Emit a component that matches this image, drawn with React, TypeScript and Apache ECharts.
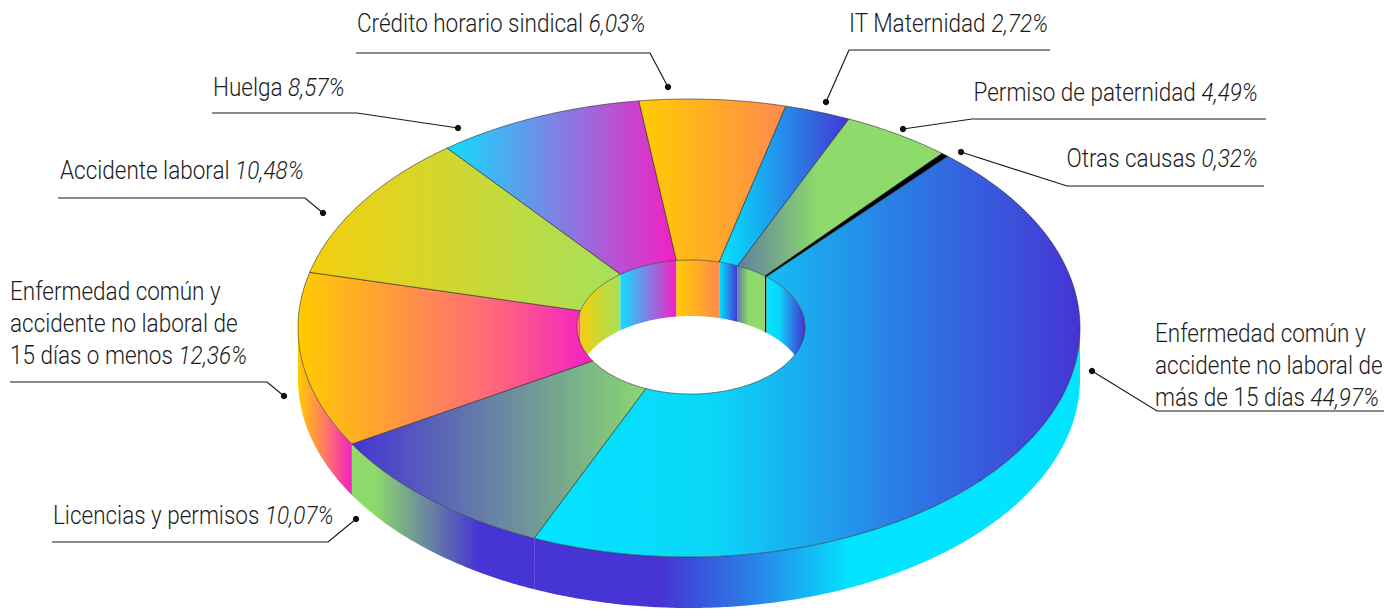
import React, { useEffect, useRef } from 'react';
import * as echarts from 'echarts';

// ---------- data (clockwise, starting with "Otras causas") ----------
const categories: string[] = [
  'Otras causas',
  'Enfermedad común y\naccidente no laboral de\nmás de 15 días',
  'Licencias y permisos',
  'Enfermedad común y\naccidente no laboral de\n15 días o menos',
  'Accidente laboral',
  'Huelga',
  'Crédito horario sindical',
  'IT Maternidad',
  'Permiso de paternidad',
];
const values: number[] = [0.32, 44.97, 10.07, 12.36, 10.48, 8.57, 6.03, 2.72, 4.49];

// ---------- styles ----------
const CYAN = '#02e4ff';
const INDIGO = '#4634d4';
const GREEN = '#8edb6c';
const YELLOW = '#ffcc00';
const MAGENTA = '#f41fc4';
const topStops: [number, string][][] = [
  [[0, '#000000'], [1, '#000000']],
  [[0, CYAN], [0.33, '#0bd6f8'], [0.66, '#2a7fe6'], [1, INDIGO]],
  [[0, INDIGO], [1, '#8ad870']],
  [[0, YELLOW], [0.4, '#ff8e4c'], [0.65, '#ff6a78'], [1, MAGENTA]],
  [[0, '#f3cf0c'], [1, '#a6e05c']],
  [[0, '#12dcff'], [1, MAGENTA]],
  [[0, YELLOW], [1, '#ff8a4e']],
  [[0, CYAN], [1, INDIGO]],
  [[0, '#5f7fa2'], [0.4, GREEN], [1, GREEN]],
];
const outerWallStops: [number, string][][] = [
  [[0, '#000000'], [1, '#000000']],
  [[0, INDIGO], [0.23, INDIGO], [0.4, '#2a80e6'], [0.58, CYAN], [1, CYAN]],
  [[0, GREEN], [0.12, GREEN], [0.7, INDIGO], [1, INDIGO]],
  [[0, YELLOW], [0.5, '#ff7a66'], [1, MAGENTA]],
  [[0, '#f3cf0c'], [1, '#a6e05c']],
  [[0, '#12dcff'], [1, MAGENTA]],
  [[0, YELLOW], [1, '#ff8a4e']],
  [[0, CYAN], [1, INDIGO]],
  [[0, '#5f7fa2'], [0.4, GREEN], [1, GREEN]],
];

// label layout: dot on the chart, elbow, end of underline, text anchor
type LL = { dot: number[]; elbow: number[]; end: number[]; x: number; base: number; align: 'left' | 'right' };
const labelLayout: LL[] = [
  { dot: [961, 152], elbow: [1067, 186], end: [1264, 186], x: 1258, base: 168, align: 'right' },
  { dot: [1092, 371], elbow: [1157, 411], end: [1384, 411], x: 1155, base: 407, align: 'left' },
  { dot: [356, 519], elbow: [328, 542], end: [52, 542], x: 53, base: 525, align: 'left' },
  { dot: [284, 396], elbow: [267, 382], end: [10, 382], x: 10, base: 365, align: 'left' },
  { dot: [323, 213], elbow: [305, 198], end: [58, 198], x: 60, base: 180, align: 'left' },
  { dot: [458, 128], elbow: [357, 113], end: [212, 113], x: 213, base: 97, align: 'left' },
  { dot: [668, 87], elbow: [650, 53], end: [356, 53], x: 357, base: 33, align: 'left' },
  { dot: [826, 102], elbow: [849, 50], end: [1050, 50], x: 849, base: 33, align: 'left' },
  { dot: [903, 129], elbow: [972, 119], end: [1266, 119], x: 1258, base: 102, align: 'right' },
];

const START_ANGLE = 40.3; // degrees, clockwise from 12 o'clock
const G = { cx: 689, cy: 328, rx: 391, ry: 229, depth: 51, icx: 691, icy: 327, irx: 114, iry: 67, idepth: 56 };
const FONT = 'Roboto, "Noto Sans", sans-serif';
const FS = 25;
const SX = 0.9;

const fmt = (v: number) => v.toFixed(2).replace('.', ',') + '%';

function grad(stops: [number, string][]) {
  return {
    type: 'linear', x: 0, y: 0, x2: 1, y2: 0,
    colorStops: stops.map(([o, c]) => ({ offset: o, color: c })),
  };
}

function arc(out: number[][], s: number, e: number, cx: number, cy: number, rx: number, ry: number, dy: number) {
  const n = Math.max(2, Math.ceil(Math.abs(e - s) / 0.5));
  for (let k = 0; k <= n; k++) {
    const a = ((s + ((e - s) * k) / n) * Math.PI) / 180;
    out.push([cx + rx * Math.sin(a), cy - ry * Math.cos(a) + dy]);
  }
  return out;
}

export default function App() {
  const ref = useRef<HTMLDivElement>(null);
  useEffect(() => {
    document.body.style.margin = '0';
    if (!ref.current) return;
    const chart = echarts.init(ref.current, undefined, { renderer: 'svg' });
    const total = values.reduce((a, b) => a + b, 0);
    const angles: number[][] = [];
    let acc = START_ANGLE;
    values.forEach((v) => {
      const w = (v / total) * 360;
      angles.push([acc, acc + w]);
      acc += w;
    });

    const renderItem = (params: any) => {
      const i = params.dataIndex;
      const [a0, a1] = angles[i];
      const children: any[] = [];
      // inner (back) walls
      [[-90, 90], [270, 450]].forEach(([lo, hi]) => {
        const s = Math.max(a0, lo), e = Math.min(a1, hi);
        if (e > s) {
          const pts: number[][] = [];
          arc(pts, s, e, G.icx, G.icy, G.irx, G.iry, 0);
          arc(pts, e, s, G.icx, G.icy, G.irx, G.iry, G.idepth);
          children.push({ type: 'polygon', z2: 10, shape: { points: pts }, style: { fill: grad(topStops[i]) } });
        }
      });
      // outer (front) walls
      [[90, 270]].forEach(([lo, hi]) => {
        const s = Math.max(a0, lo), e = Math.min(a1, hi);
        if (e > s) {
          const pts: number[][] = [];
          arc(pts, s, e, G.cx, G.cy, G.rx, G.ry, 0);
          arc(pts, e, s, G.cx, G.cy, G.rx, G.ry, G.depth);
          children.push({ type: 'polygon', z2: 20, shape: { points: pts }, style: { fill: grad(outerWallStops[i]) } });
        }
      });
      // top face
      const top: number[][] = [];
      arc(top, a0, a1, G.cx, G.cy, G.rx, G.ry, 0);
      arc(top, a1, a0, G.icx, G.icy, G.irx, G.iry, 0);
      children.push({
        type: 'polygon', z2: 30, shape: { points: top },
        style: { fill: grad(topStops[i]), stroke: '#2b2b2b', lineWidth: 0.6 },
      });
      return { type: 'group', children };
    };

    const graphic: any[] = [];
    labelLayout.forEach((L, i) => {
      graphic.push({
        type: 'polyline', z: 10,
        shape: { points: [L.dot, L.elbow, L.end] },
        style: { stroke: '#1a1a1a', lineWidth: 1.2, fill: null },
      });
      graphic.push({
        type: 'circle', z: 10,
        shape: { cx: L.dot[0], cy: L.dot[1], r: 3.2 },
        style: { fill: '#111111' },
      });
      graphic.push({
        type: 'text', z: 10,
        x: L.x, y: L.base + 7, scaleX: SX,
        style: {
          text: categories[i] + ' {p|' + fmt(values[i]) + '}',
          x: 0, y: 0,
          align: L.align, verticalAlign: 'bottom',
          fontFamily: FONT, fontSize: FS, fontWeight: 300, lineHeight: 32,
          fill: '#1c1c1c',
          rich: {
            p: { fontFamily: FONT, fontSize: FS, fontWeight: 300, fontStyle: 'italic', fill: '#1c1c1c', lineHeight: 32 },
          },
        },
      });
    });

    chart.setOption({
      animation: false,
      backgroundColor: '#ffffff',
      series: [
        {
          type: 'custom',
          coordinateSystem: 'none',
          renderItem,
          data: values.map((v, i) => ({ value: v, name: categories[i] })),
        },
      ],
      graphic,
    });
    return () => chart.dispose();
  }, []);
  return <div ref={ref} style={{ width: 1384, height: 610 }} />;
}
